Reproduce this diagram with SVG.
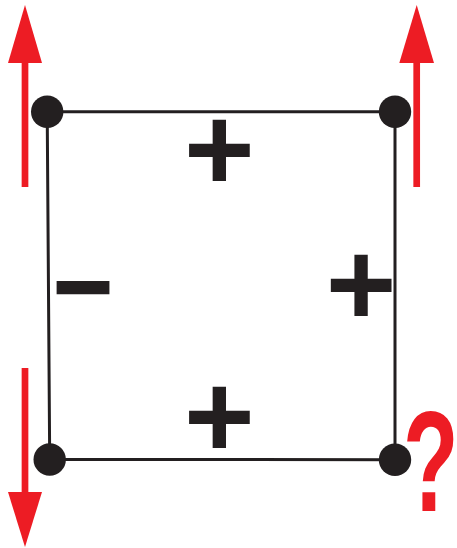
<svg xmlns="http://www.w3.org/2000/svg" width="457" height="548" viewBox="0 0 457 548">
  <style>
    .edge { stroke: #231f20; stroke-width: 3; fill: none; }
    .dot { fill: #231f20; }
    .arrow-shaft { stroke: #ed1c24; stroke-width: 6.7; fill: none; }
    .arrow-head { fill: #ed1c24; }
    .sign { font-family: "Liberation Sans", Arial, sans-serif; font-weight: bold; font-size: 121px; fill: #231f20; text-anchor: middle; }
    .q { font-family: "Liberation Sans", Arial, sans-serif; font-weight: 700; font-size: 142px; fill: #ed1c24; }
  </style>
  <rect width="457" height="548" fill="#ffffff"/>
  <g id="connectors">
    <path class="edge" d="M47.2,111.7 L395,111.8 L395,459.7 L49.7,459.5 Z"/>
  </g>
  <g id="arrows">
    <g id="arrow-top-left">
      <line class="arrow-shaft" x1="25" y1="60" x2="25" y2="187"/>
      <polygon class="arrow-head" points="25,5 42,63 8,63"/>
    </g>
    <g id="arrow-top-right">
      <line class="arrow-shaft" x1="416.7" y1="60" x2="416.7" y2="187"/>
      <polygon class="arrow-head" points="416.7,5 434,63 399.3,63"/>
    </g>
    <g id="arrow-bottom-left">
      <line class="arrow-shaft" x1="25" y1="368" x2="25" y2="495"/>
      <polygon class="arrow-head" points="25,547 42,492 8,492"/>
    </g>
  </g>
  <g id="node-top-left"><circle class="dot" cx="47.2" cy="111.7" r="16.2"/></g>
  <g id="node-top-right"><circle class="dot" cx="395" cy="111.8" r="16.2"/></g>
  <g id="node-bottom-left"><circle class="dot" cx="49.7" cy="459.5" r="16.2"/></g>
  <g id="node-bottom-right"><circle class="dot" cx="395" cy="459.7" r="16.2"/></g>
  <g id="labels">
    <text class="sign" x="219.3" y="190.7">+</text>
    <text class="sign" x="361" y="326.2">+</text>
    <text class="sign" x="219.3" y="457.5">+</text>
    <text class="sign" x="0" y="0" transform="translate(83,328) scale(0.87,1)">−</text>
    <text class="q" x="0" y="0" transform="translate(403,511) scale(0.64,1)">?</text>
  </g>
</svg>
